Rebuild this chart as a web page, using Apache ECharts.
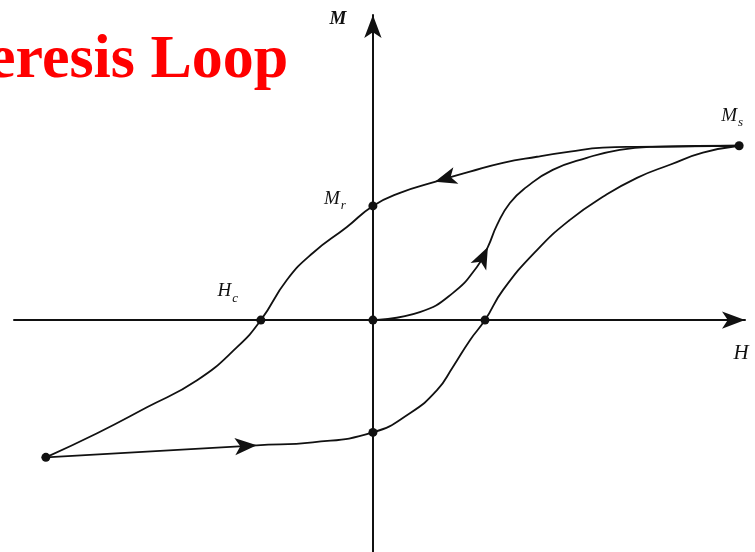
<!DOCTYPE html>
<html>
<head>
<meta charset="utf-8">
<title>Hysteresis Loop</title>
<script src="https://cdn.jsdelivr.net/npm/echarts@6/dist/echarts.min.js"></script>
<style>
  html, body { margin: 0; padding: 0; background: #fff; }
  #main { width: 755px; height: 552px; }
</style>
</head>
<body>
<div id="main"></div>
<script>
// H / M in units where Hs = 10, Ms = 1
var descendingBranch = [
  [10.0, 1.0], [7.21, 0.994], [6.28, 0.989], [5.38, 0.966], [4.48, 0.937],
  [3.55, 0.902], [2.65, 0.851], [1.69, 0.793], [0.74, 0.730], [0, 0.655],
  [-0.71, 0.534], [-1.64, 0.385], [-2.35, 0.230], [-3.06, 0], [-3.71, -0.155],
  [-4.80, -0.345], [-6.17, -0.500], [-7.53, -0.649], [-8.93, -0.787]
];
var ascendingBranch = [
  [-8.93, -0.787], [-3.17, -0.718], [-1.64, -0.701], [0, -0.644], [1.01, -0.534],
  [1.75, -0.402], [2.18, -0.270], [2.65, -0.115], [3.06, 0], [3.55, 0.172],
  [4.48, 0.402], [5.38, 0.575], [6.28, 0.707], [7.21, 0.816], [8.11, 0.891],
  [9.01, 0.960], [10.0, 1.0]
];
var initialCurve = [
  [0, 0], [1.28, 0.046], [2.18, 0.155], [2.84, 0.305], [3.14, 0.420],
  [3.39, 0.546], [3.74, 0.672], [4.20, 0.764], [4.91, 0.862], [5.84, 0.931],
  [6.74, 0.977], [7.64, 0.994], [10.0, 1.0]
];
var pointNames = ['Ms', 'Mr', 'O', 'Hc', 'Hc2', 'Mr2', 'Ms2'];
var pointValues = [[10.0, 1.0], [0, 0.655], [0, 0], [-3.06, 0], [3.06, 0], [0, -0.644], [-8.93, -0.787]];
// arrows sit on a curve point, pointing along the curve
var arrowCurves = [descendingBranch, initialCurve, ascendingBranch];
var arrowIndex = [7, 4, 1];

var hRange = [-9.8, 10.16];
var mRange = [-1.33, 1.75];

var INK = '#111';
var labelRich = {
  m: { fontFamily: 'Liberation Serif', fontStyle: 'italic', fontSize: 19, color: INK },
  s: { fontFamily: 'Liberation Serif', fontStyle: 'italic', fontSize: 13, color: INK, padding: [14, 0, 0, 1] }
};
var pointLabels = {
  Ms: { text: '{m|M}{s|s}', offset: [-7, -30] },
  Mr: { text: '{m|M}{s|r}', offset: [-38, -7] },
  Hc: { text: '{m|H}{s|c}', offset: [-33, -29] }
};

var chart = echarts.init(document.getElementById('main'));

function curveSeries(data) {
  return {
    type: 'line',
    data: data,
    smooth: 0.5,
    symbol: 'none',
    silent: true,
    lineStyle: { color: INK, width: 1.8 },
    z: 3
  };
}

var baseOption = {
  animation: false,
  title: {
    text: 'Hysteresis Loop',
    left: -136,
    top: 30,
    padding: 0,
    textStyle: { color: '#ff0000', fontFamily: 'Liberation Serif', fontWeight: 'bold', fontSize: 62 }
  },
  grid: { left: 14, right: 10, top: 15, bottom: 0 },
  xAxis: {
    type: 'value', min: hRange[0], max: hRange[1],
    axisLine: { onZero: true, symbol: ['none', 'arrow'], symbolSize: [13, 23],
      lineStyle: { color: INK, width: 2 } },
    axisTick: { show: false }, axisLabel: { show: false }, splitLine: { show: false }
  },
  yAxis: {
    type: 'value', min: mRange[0], max: mRange[1],
    axisLine: { onZero: true, symbol: ['none', 'arrow'], symbolSize: [13, 23],
      lineStyle: { color: INK, width: 2 } },
    axisTick: { show: false }, axisLabel: { show: false }, splitLine: { show: false }
  },
  graphic: [
    { type: 'text', x: 338, y: 19, style: { text: 'M', font: 'italic bold 19px "Liberation Serif"', fill: INK, align: 'center', verticalAlign: 'middle' } },
    { type: 'text', x: 741, y: 353, style: { text: 'H', font: 'italic 21px "Liberation Serif"', fill: INK, align: 'center', verticalAlign: 'middle' } }
  ],
  series: [
    curveSeries(descendingBranch),
    curveSeries(ascendingBranch),
    curveSeries(initialCurve),
    {
      type: 'scatter',
      symbol: 'circle',
      symbolSize: 9,
      itemStyle: { color: INK, opacity: 1 },
      z: 5,
      data: pointNames.map(function (n, i) {
        var item = { name: n, value: pointValues[i] };
        var lb = pointLabels[n];
        if (lb) {
          item.label = { show: true, position: 'inside', formatter: lb.text, offset: lb.offset,
            align: 'center', verticalAlign: 'middle', rich: labelRich };
        }
        return item;
      })
    }
  ]
};
chart.setOption(baseOption);

// arrow heads, rotated to the curve's direction in pixel space
var arrowData = arrowCurves.map(function (curve, k) {
  var i = arrowIndex[k];
  var a = chart.convertToPixel({ gridIndex: 0 }, curve[i - 1]);
  var b = chart.convertToPixel({ gridIndex: 0 }, curve[i + 1]);
  var deg = Math.atan2(a[1] - b[1], b[0] - a[0]) * 180 / Math.PI;
  return { value: curve[i], symbolRotate: deg - 90 };
});
chart.setOption({
  series: baseOption.series.concat([{
    type: 'scatter',
    symbol: 'arrow',
    symbolSize: [13, 22],
    itemStyle: { color: INK, opacity: 1 },
    z: 6,
    data: arrowData
  }])
});
</script>
</body>
</html>
